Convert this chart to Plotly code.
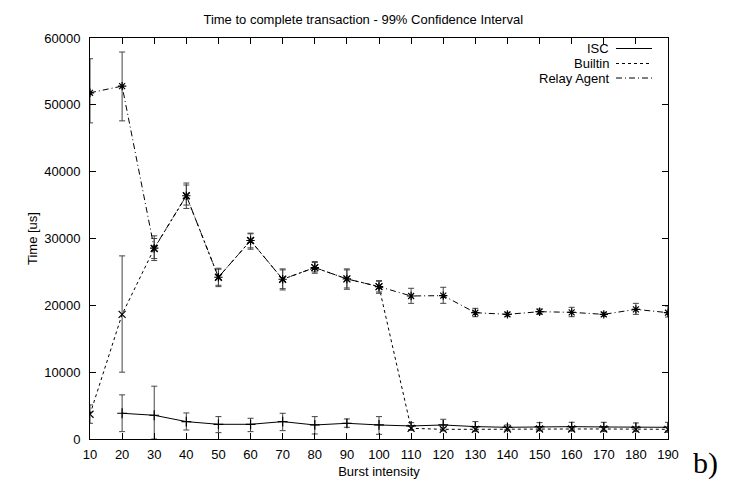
import plotly.graph_objects as go

burst = [10, 20, 30, 40, 50, 60, 70, 80, 90, 100, 110, 120, 130, 140, 150, 160, 170, 180, 190]

isc = [None, 3850, 3550, 2600, 2200, 2200, 2600, 2100, 2350, 2100, 1950, 2100, 1850, 1750, 1850, 1850, 1800, 1750, 1750]
isc_lo = [None, 1100, 0, 1350, 950, 1100, 1250, 750, 1750, 700, 1400, 1300, 1100, 1400, 1250, 1200, 1100, 1100, 1000]
isc_hi = [None, 6600, 7900, 3900, 3350, 3100, 3850, 3350, 3000, 3350, 2450, 2950, 2600, 2100, 2450, 2500, 2500, 2400, 2500]

builtin = [3700, 18650, 28500, 36400, 24200, 29700, 23900, 25650, 23950, 22800, 1600, 1450, 1450, 1500, 1500, 1500, 1500, 1450, 1450]
builtin_lo = [2350, 10000, 27000, 35000, 23000, 28600, 22500, 25000, 22600, 22000, 1300, 1200, 1200, 1300, 1300, 1300, 1300, 1200, 1200]
builtin_hi = [5100, 27400, 30000, 38000, 25400, 30700, 25300, 26400, 25300, 23600, 1900, 1700, 1700, 1700, 1700, 1700, 1700, 1700, 1700]

relay = [51800, 52800, 28550, 36400, 24200, 29700, 23900, 25650, 23950, 22800, 21400, 21450, 18900, 18650, 19050, 18950, 18650, 19400, 18900]
relay_lo = [47300, 47600, 26700, 34500, 22800, 28400, 22300, 24800, 22400, 21800, 20300, 20300, 18300, 18350, 18650, 18300, 18350, 18650, 18250]
relay_hi = [56900, 57900, 30400, 38300, 25550, 30800, 25450, 26550, 25450, 23700, 22550, 22700, 19550, 18950, 19450, 19700, 18950, 20300, 19900]

series = [
    ("ISC", isc, isc_lo, isc_hi, "solid", "cross-thin-open"),
    ("Builtin", builtin, builtin_lo, builtin_hi, "dot", "x-thin-open"),
    ("Relay Agent", relay, relay_lo, relay_hi, "6px,3px,1px,3px", "asterisk-open"),
]

fig = go.Figure()
for name, vals, lo, hi, dash, sym in series:
    plus = [None if v is None else h - v for v, h in zip(vals, hi)]
    minus = [None if v is None else v - l for v, l in zip(vals, lo)]
    fig.add_trace(go.Scatter(
        x=burst, y=vals, name=name, mode="lines+markers",
        line=dict(color="black", width=1, dash=dash),
        marker=dict(symbol=sym, size=7, color="black", line=dict(color="black", width=1.2)),
        error_y=dict(type="data", array=plus, arrayminus=minus, symmetric=False,
                     color="#444444", thickness=1, width=3),
        showlegend=False,
    ))

fnt = "Liberation Sans, Arial, sans-serif"
L, R, T, B = 90, 61, 38, 44
W, H = 729, 483
pw, ph = W - L - R, H - T - B

def px(x):
    return (x - L) / pw

def py(y):
    return (H - B - y) / ph

annotations = []
shapes = []
legend_rows = [("ISC", "solid", 48.5), ("Builtin", "dot", 63.5), ("Relay Agent", "6px,3px,1px,3px", 78)]
for label, dash, yy in legend_rows:
    annotations.append(dict(xref="paper", yref="paper", x=px(611), y=py(yy), text=label,
                            showarrow=False, xanchor="right", yanchor="middle",
                            font=dict(family=fnt, size=13, color="black")))
    shapes.append(dict(type="line", xref="paper", yref="paper", x0=px(616), x1=px(652),
                       y0=py(yy), y1=py(yy), line=dict(color="black", width=1,
                       dash=dash)))

annotations.append(dict(xref="paper", yref="paper", x=px(705), y=py(463), text="b)",
                        showarrow=False, xanchor="center", yanchor="middle",
                        font=dict(family="Liberation Serif, Times New Roman, serif", size=30, color="black")))

fig.update_layout(
    width=W, height=H,
    margin=dict(l=L, r=R, t=T, b=B),
    paper_bgcolor="white", plot_bgcolor="white",
    font=dict(family=fnt, size=13, color="black"),
    title=dict(text="Time to complete transaction - 99% Confidence Interval",
               x=px(378), y=1 - 19 / H, xanchor="center", yanchor="middle",
               font=dict(family=fnt, size=13, color="black")),
    annotations=annotations,
    shapes=shapes,
    xaxis=dict(range=[10, 190], tickmode="linear", tick0=10, dtick=10, automargin=False,
               showgrid=False, zeroline=False, showline=True, linecolor="black", linewidth=1,
               mirror="ticks", ticks="inside", ticklen=6, tickcolor="black",
               tickfont=dict(size=13, color="black"), ticklabelstandoff=3,
               title=dict(text="Burst intensity", font=dict(size=13, color="black"), standoff=6)),
    yaxis=dict(range=[0, 60000], tickmode="linear", tick0=0, dtick=10000, tickformat="d",
               automargin=False,
               showgrid=False, zeroline=False, showline=True, linecolor="black", linewidth=1,
               mirror="ticks", ticks="inside", ticklen=6, tickcolor="black",
               tickfont=dict(size=13, color="black"), ticklabelstandoff=6,
               title=dict(text="Time [us]", font=dict(size=13, color="black"), standoff=3)),
)

fig.write_html("out.html")
